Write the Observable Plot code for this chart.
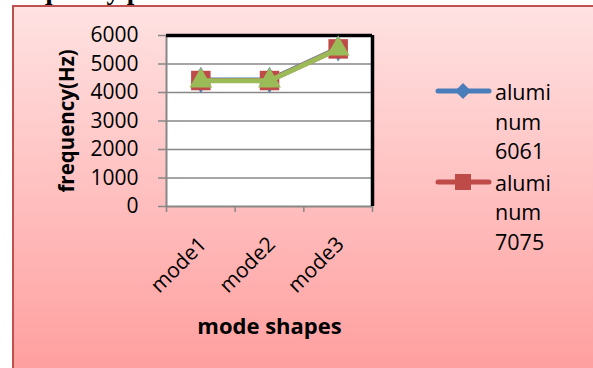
<!DOCTYPE html>
<html><head><meta charset="utf-8">
<script src="https://cdn.jsdelivr.net/npm/d3@7"></script>
<script src="https://cdn.jsdelivr.net/npm/@observablehq/plot@0.6"></script>
<style>
body{margin:0;width:593px;height:368px;overflow:hidden;background:#fff;font-family:"Open Sans",sans-serif;position:relative}
#title{position:absolute;left:5px;top:-23.5px;font:bold 27px/27px "Liberation Serif",serif;color:#000;white-space:nowrap}
#box{position:absolute;left:12px;top:5px;width:600px;height:361px;border:2px solid #c0504d;background:linear-gradient(#ffe2e2,#ff9f9f)}
#chart{position:absolute;left:0;top:0}
.leg{position:absolute;font-size:21.5px;line-height:29.5px;color:#000}
.leg svg{position:absolute;left:-60px;top:0px}
</style></head>
<body>
<div id="title">frequency plot</div>
<div id="box"><div id="chart"></div><div id="legend"></div></div>
<script>
const categories = ["mode1", "mode2", "mode3"];
const seriesNames = ["aluminum 6061", "aluminum 7075", "series 3"];
const al6061 = [4440, 4440, 5550];
const al7075 = [4420, 4420, 5530];
const series3 = [4410, 4410, 5530];
const yTicks = [0, 1000, 2000, 3000, 4000, 5000, 6000];
const xTitle = "mode shapes";
const yTitle = "frequency(Hz)";

const colors = ["#4a7ebb", "#be4b48", "#9bbb59"];
const rows = (vals, s) => categories.map((c, i) => ({i, c, v: vals[i], s}));
const d1 = rows(al6061, seriesNames[0]);
const d2 = rows(al7075, seriesNames[1]);
const d3s = rows(series3, seriesNames[2]);
const X = d => d.i + 0.5;
const gray = "#878787";

const chart = Plot.plot({
  width: 579, height: 361,
  marginLeft: 152, marginTop: 28, marginRight: 221, marginBottom: 162,
  style: {background: "transparent", fontFamily: "Open Sans", color: "#000", overflow: "visible"},
  x: {domain: [0, 3], label: null},
  y: {domain: [0, 6000], label: null},
  marks: [
    Plot.frame({fill: "white", stroke: null}),
    Plot.ruleY(yTicks.slice(1, -1), {stroke: gray, strokeWidth: 1.5}),
    Plot.ruleY([0], {stroke: gray, strokeWidth: 2}),
    Plot.ruleX([0], {stroke: gray, strokeWidth: 2}),
    Plot.ruleY([6000], {stroke: "#000", strokeWidth: 3.5, x1: 0, x2: 3}),
    Plot.ruleX([3], {stroke: "#000", strokeWidth: 3.5, y1: 0, y2: 6000}),
    Plot.axisY({ticks: yTicks, tickFormat: d => String(d), tickSize: 8, tickPadding: 20, fontSize: 21, stroke: gray, strokeWidth: 1.5}),
    Plot.axisX({ticks: [0, 1, 2, 3], tickSize: 6, tickFormat: () => "", stroke: gray, strokeWidth: 1.5}),
    Plot.text(categories, {x: (d, i) => i + 0.5, frameAnchor: "bottom", dx: 7, dy: 39, rotate: -45, textAnchor: "end", lineAnchor: "bottom", fontSize: 21}),
    Plot.text([yTitle], {frameAnchor: "left", dx: -99, rotate: -90, textAnchor: "middle", lineAnchor: "middle", fontWeight: "bold", fontSize: 20.5}),
    Plot.text([xTitle], {frameAnchor: "bottom", dy: 120, textAnchor: "middle", lineAnchor: "middle", fontWeight: "bold", fontSize: 22}),
    Plot.line(d1, {x: X, y: "v", stroke: colors[0], strokeWidth: 5}),
    Plot.dot(d1, {x: X, y: "v", symbol: "diamond", r: 8, fill: colors[0]}),
    Plot.line(d2, {x: X, y: "v", stroke: colors[1], strokeWidth: 5}),
    Plot.dot(d2, {x: X, y: "v", symbol: "square", r: 11, fill: colors[1]}),
    Plot.line(d3s, {x: X, y: "v", stroke: colors[2], strokeWidth: 5}),
    Plot.dot(d3s, {x: X, y: "v", symbol: "triangle", r: 8.5, fill: colors[2]})
  ]
});
document.getElementById("chart").appendChild(chart);

// legend (two visible entries)
const legend = document.getElementById("legend");
const legendSymbols = ["diamond", "square"];
[0, 1].forEach(k => {
  const name = seriesNames[k];
  const parts = [name.slice(0, 5), name.slice(5, 8), name.slice(9)];
  const div = document.createElement("div");
  div.className = "leg";
  div.style.left = "481px";
  div.style.top = (70 + k * 90.5) + "px";
  div.innerHTML = parts.join("<br>");
  const sym = legendSymbols[k] === "diamond"
    ? `<path d="M28,6 L36,14 L28,22 L20,14 Z" fill="${colors[k]}"/>`
    : `<rect x="20" y="6" width="16" height="16" fill="${colors[k]}"/>`;
  div.innerHTML += `<svg width="60" height="28" viewBox="0 0 60 28"><line x1="3" y1="14" x2="54" y2="14" stroke="${colors[k]}" stroke-width="5" stroke-linecap="round"/>${sym}</svg>`;
  legend.appendChild(div);
});
</script>
</body></html>
